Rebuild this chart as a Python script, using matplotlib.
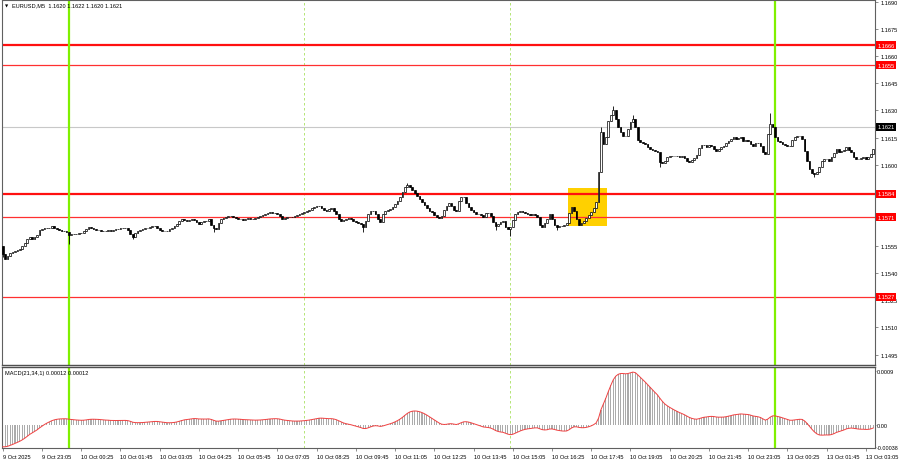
import numpy as np
import matplotlib
matplotlib.use("Agg")
import matplotlib.pyplot as plt
import matplotlib.transforms as mtransforms
from matplotlib.patches import Rectangle

plt.rcParams['font.family'] = ['Liberation Sans', 'DejaVu Sans']
FS = 4.1

# EURUSD M5 closes, one per bar, first bar = 9 Oct 21:45
close = [
    1.15506, 1.15478, 1.15495, 1.15512, 1.15517, 1.15523, 1.15528, 1.15534, 1.15550, 1.15567,
    1.15589, 1.15600, 1.15589, 1.15600, 1.15611, 1.15639, 1.15644, 1.15650, 1.15650, 1.15650,
    1.15661, 1.15650, 1.15644, 1.15639, 1.15633, 1.15633, 1.15628, 1.15611, 1.15617, 1.15617,
    1.15617, 1.15622, 1.15622, 1.15633, 1.15644, 1.15655, 1.15650, 1.15644, 1.15639, 1.15639,
    1.15633, 1.15633, 1.15633, 1.15639, 1.15633, 1.15639, 1.15644, 1.15644, 1.15650, 1.15650,
    1.15650, 1.15639, 1.15617, 1.15600, 1.15622, 1.15633, 1.15639, 1.15644, 1.15650, 1.15650,
    1.15655, 1.15661, 1.15661, 1.15650, 1.15639, 1.15633, 1.15633, 1.15633, 1.15644, 1.15650,
    1.15661, 1.15672, 1.15689, 1.15700, 1.15694, 1.15689, 1.15694, 1.15700, 1.15694, 1.15683,
    1.15672, 1.15683, 1.15689, 1.15689, 1.15700, 1.15667, 1.15650, 1.15644, 1.15678, 1.15700,
    1.15705, 1.15711, 1.15716, 1.15716, 1.15711, 1.15705, 1.15700, 1.15700, 1.15694, 1.15700,
    1.15705, 1.15700, 1.15700, 1.15705, 1.15711, 1.15716, 1.15722, 1.15727, 1.15733, 1.15738,
    1.15733, 1.15733, 1.15727, 1.15716, 1.15700, 1.15705, 1.15711, 1.15711, 1.15711, 1.15716,
    1.15722, 1.15727, 1.15733, 1.15738, 1.15744, 1.15749, 1.15760, 1.15766, 1.15771, 1.15771,
    1.15760, 1.15749, 1.15744, 1.15755, 1.15760, 1.15744, 1.15727, 1.15700, 1.15689, 1.15694,
    1.15700, 1.15705, 1.15700, 1.15689, 1.15683, 1.15678, 1.15672, 1.15655, 1.15689, 1.15727,
    1.15744, 1.15744, 1.15727, 1.15700, 1.15683, 1.15727, 1.15744, 1.15749, 1.15755, 1.15766,
    1.15783, 1.15799, 1.15821, 1.15849, 1.15877, 1.15888, 1.15877, 1.15860, 1.15843, 1.15827,
    1.15810, 1.15794, 1.15777, 1.15760, 1.15744, 1.15738, 1.15722, 1.15711, 1.15705, 1.15716,
    1.15749, 1.15771, 1.15788, 1.15771, 1.15749, 1.15744, 1.15799, 1.15821, 1.15821, 1.15788,
    1.15766, 1.15749, 1.15738, 1.15727, 1.15727, 1.15722, 1.15711, 1.15733, 1.15733, 1.15716,
    1.15683, 1.15661, 1.15672, 1.15683, 1.15689, 1.15655, 1.15644, 1.15655, 1.15694, 1.15727,
    1.15738, 1.15744, 1.15738, 1.15733, 1.15727, 1.15722, 1.15727, 1.15722, 1.15711, 1.15667,
    1.15655, 1.15678, 1.15700, 1.15727, 1.15700, 1.15667, 1.15655, 1.15661, 1.15661, 1.15667,
    1.15678, 1.15733, 1.15766, 1.15744, 1.15700, 1.15667, 1.15678, 1.15689, 1.15705, 1.15722,
    1.15738, 1.15760, 1.15794, 1.15960, 1.16181, 1.16115, 1.16153, 1.16242, 1.16275, 1.16303,
    1.16253, 1.16209, 1.16181, 1.16159, 1.16159, 1.16198, 1.16236, 1.16253, 1.16209, 1.16137,
    1.16126, 1.16120, 1.16115, 1.16098, 1.16087, 1.16081, 1.16076, 1.16070, 1.16015, 1.16009,
    1.16020, 1.16043, 1.16048, 1.16048, 1.16048, 1.16048, 1.16043, 1.16048, 1.16037, 1.16020,
    1.16015, 1.16026, 1.16037, 1.16054, 1.16092, 1.16109, 1.16109, 1.16098, 1.16109, 1.16103,
    1.16087, 1.16076, 1.16087, 1.16098, 1.16103, 1.16120, 1.16131, 1.16142, 1.16153, 1.16142,
    1.16148, 1.16153, 1.16131, 1.16137, 1.16131, 1.16115, 1.16103, 1.16120, 1.16120, 1.16103,
    1.16070, 1.16059, 1.16170, 1.16225, 1.16209, 1.16153, 1.16131, 1.16126, 1.16115, 1.16109,
    1.16103, 1.16103, 1.16137, 1.16153, 1.16159, 1.16159, 1.16142, 1.16076, 1.16020, 1.15976,
    1.15954, 1.15949, 1.15960, 1.15987, 1.16020, 1.16032, 1.16032, 1.16020, 1.16043, 1.16065,
    1.16087, 1.16070, 1.16076, 1.16081, 1.16098, 1.16081, 1.16070, 1.16043, 1.16032, 1.16032,
    1.16037, 1.16043, 1.16032, 1.16043, 1.16059, 1.16087,
]
first_open = 1.15550
# bar -> (high, low) where a wick sticks out of the body
wicks = {
    0: (None, 1.15490), 27: (None, 1.15561), 53: (None, 1.15589), 86: (None, 1.15630),
    147: (None, 1.15628), 165: (1.15899, None), 201: (None, 1.15640),
    207: (None, 1.15606), 226: (None, 1.15640), 244: (1.16209, None),
    249: (1.16325, None), 257: (1.16275, None), 268: (None, 1.15987),
    313: (1.16286, None), 331: (None, 1.15932),
}

levels_thick = [1.1666, 1.1584]
levels_thin = [1.1655, 1.1571, 1.1527]
bid = 1.1621
hidden_ticks = [1.1585, 1.1570]   # covered by the level boxes

x_labels = ["9 Oct 2025", "9 Oct 23:05", "10 Oct 00:25", "10 Oct 01:45", "10 Oct 03:05",
            "10 Oct 04:25", "10 Oct 05:45", "10 Oct 07:05", "10 Oct 08:25", "10 Oct 09:45",
            "10 Oct 11:05", "10 Oct 12:25", "10 Oct 13:45", "10 Oct 15:05", "10 Oct 16:25",
            "10 Oct 17:45", "10 Oct 19:05", "10 Oct 20:25", "10 Oct 21:45", "10 Oct 23:05",
            "13 Oct 00:25", "13 Oct 01:45", "13 Oct 03:05"]
label_step = 16
session_bars = [27, 315]     # 10 Oct 00:00, 13 Oct 00:00
grid_bars = [123, 207]       # 10 Oct 08:00, 15:00
box_bars = (230.5, 246.5)
box_prices = (1.15661, 1.15871)

# MACD(21,34,1)
fast, slow = 21, 34
ema_fast_seed, ema_slow_seed = 1.15542, 1.15580

n = len(close)
x = np.arange(n)
c = np.array(close)
o = np.concatenate([[first_open], c[:-1]])
hi = np.maximum(o, c)
lo = np.minimum(o, c)
for i, (h, l) in wicks.items():
    if h is not None:
        hi[i] = h
    if l is not None:
        lo[i] = l

af, as_ = 2.0 / (fast + 1), 2.0 / (slow + 1)
ef, es = ema_fast_seed, ema_slow_seed
macd = []
for v in c:
    ef = ef + af * (v - ef)
    es = es + as_ * (v - es)
    macd.append(ef - es)
macd = np.array(macd)
signal = macd.copy()   # SMA period 1

fig = plt.figure(figsize=(9, 4.6), dpi=100)
W, H = 900.0, 460.0
ax = fig.add_axes([2 / W, 1 - 366 / H, 873 / W, 365 / H])
ax2 = fig.add_axes([2 / W, 1 - 449 / H, 873 / W, 81 / H])

xlim = (-0.3, 355.75)
for a in (ax, ax2):
    a.set_xlim(*xlim)
    for s in a.spines.values():
        s.set_color('#606060')
        s.set_linewidth(0.8)
    a.yaxis.tick_right()
ax.tick_params(axis='y', length=2.5, width=0.5, color='#606060', labelsize=FS, pad=1.2)
ax2.tick_params(axis='y', length=0.8, width=0.5, color='#606060', labelsize=FS, pad=0.3)
ax.spines['bottom'].set_linewidth(1.0)
ax.spines['bottom'].set_color('#505050')
ax2.spines['top'].set_linewidth(1.0)
ax2.spines['top'].set_color('#505050')

# main panel
ax.set_ylim(1.14892, 1.16911)
ax.add_patch(Rectangle((box_bars[0], box_prices[0]), box_bars[1] - box_bars[0],
                       box_prices[1] - box_prices[0], color='#FFD000', zorder=1, lw=0))
ax.axhline(bid, color='#C8C8C8', lw=0.8, zorder=1.5)
for lv in levels_thick:
    ax.axhline(lv, color='#FF1010', lw=1.6, zorder=2)
for lv in levels_thin:
    ax.axhline(lv, color='#FF3030', lw=0.9, zorder=2)
for a in (ax, ax2):
    for b in session_bars:
        a.axvline(b, color='#80F000', lw=1.6, zorder=2.5)
    for b in grid_bars:
        a.axvline(b, color='#A8E060', lw=0.6, ls=(0, (3, 3)), zorder=0.5)

up = c >= o
ax.vlines(x, lo, hi, color='black', lw=0.6, zorder=3)
body_h = np.maximum(np.abs(c - o), 0.000015)
ax.bar(x[up], body_h[up], bottom=np.minimum(o, c)[up], width=0.7,
       facecolor='white', edgecolor='black', lw=0.5, zorder=3.5)
ax.bar(x[~up], body_h[~up], bottom=np.minimum(o, c)[~up], width=0.7,
       facecolor='black', edgecolor='black', lw=0.5, zorder=3.5)

yt = np.arange(1.1495, 1.16905, 0.0015)
ax.set_yticks(yt)
ax.set_yticklabels(['' if any(abs(v - h) < 1e-6 for h in hidden_ticks) else '%.4f' % v
                    for v in yt])
ax.set_xticks([])

tr = mtransforms.blended_transform_factory(ax.transAxes, ax.transData)
for lv in levels_thick + levels_thin:
    ax.text(1.003, lv, '%.4f' % lv, transform=tr, fontsize=FS, color='white',
            va='center', ha='left', clip_on=False, zorder=10,
            bbox=dict(boxstyle='square,pad=0.25', fc='#FF0000', ec='none'))
ax.text(1.003, bid, '%.4f' % bid, transform=tr, fontsize=FS, color='white',
        va='center', ha='left', clip_on=False, zorder=10,
        bbox=dict(boxstyle='square,pad=0.25', fc='black', ec='none'))

ax.text(0.003, 0.986, '\u25bc', transform=ax.transAxes, fontsize=3, family='DejaVu Sans',
        va='center', ha='left')
ax.text(0.012, 0.986, 'EURUSD,M5  1.1620 1.1622 1.1620 1.1621', transform=ax.transAxes,
        fontsize=FS, va='center', ha='left')

# MACD panel
ax2.set_ylim(-0.00039, 0.00097)
ax2.bar(x, macd, width=0.45, color='#ABABAB', zorder=2)
ax2.plot(x, signal, color='#F04040', lw=0.7, zorder=3)
ax2.set_yticks([0.0009, 0.0, -0.00038])
ax2.set_yticklabels(['0.0009', '0.00', '-0.00038'])
ax2.get_yticklabels()[2].set_fontsize(3.9)
ax2.text(0.003, 0.93, 'MACD(21,34,1) 0.00012 0.00012', transform=ax2.transAxes,
         fontsize=FS, va='center', ha='left')

xt = np.arange(0, label_step * len(x_labels), label_step)
ax2.set_xticks(xt)
ax2.set_xticklabels(x_labels)
ax2.tick_params(axis='x', length=2.5, width=0.5, color='#606060', labelsize=FS, pad=1.5)
for lab in ax2.get_xticklabels():
    lab.set_ha('left')

fig.savefig('out.png', dpi=100, facecolor='white')
